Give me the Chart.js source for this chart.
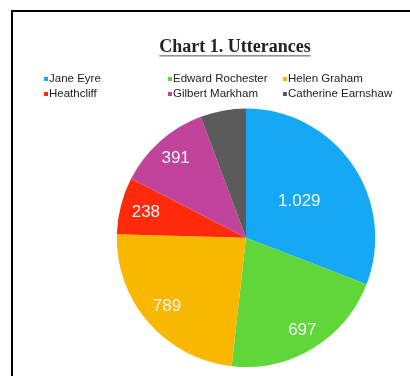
<!DOCTYPE html>
<html>
<head>
<meta charset="utf-8">
<script src="https://cdn.jsdelivr.net/npm/chart.js@4.4.0/dist/chart.umd.min.js"></script>
<style>
    html, body { margin: 0; padding: 0; background: #fff; overflow: hidden; }
    #wrap { position: relative; width: 410px; height: 376px; }
    #frame { position: absolute; left: 11px; top: 10px; width: 600px; height: 600px;
             border-left: 2px solid #000; border-top: 2px solid #000; }
    #pie { position: absolute; left: 0; top: 0; }
</style>
</head>
<body>
<div id="wrap">
    <div id="frame"></div>
    <canvas id="pie" width="410" height="376"></canvas>
</div>
<script>
const characters = ['Jane Eyre', 'Edward Rochester', 'Helen Graham', 'Heathcliff', 'Gilbert Markham', 'Catherine Earnshaw'];
const utterances = [1029, 697, 789, 238, 391, 190];
const show_value = [true, true, true, true, true, false];
const slice_colors = ['#14a8f5', '#5fd63a', '#f8b800', '#ff2a0a', '#c0449b', '#5b5b5b'];

// thousands with a dot, like "1.029"
function fmt(v) {
    return String(v).replace(/\B(?=(\d{3})+(?!\d))/g, '.');
}

// nudges the pie to the right of the title/legend centre
const shift_area = {
    id: 'shift_area',
    afterLayout(chart, args, opts) {
        const a = chart.chartArea;
        a.left += opts.dx;
        a.width = a.right - a.left;
    }
};

// title underline
const underline = {
    id: 'underline',
    afterDraw(chart) {
        const tb = chart.titleBlock;
        const o = tb.options;
        const font = Chart.helpers.toFont(o.font);
        const pad = Chart.helpers.toPadding(o.padding);
        const ctx = chart.ctx;
        ctx.save();
        ctx.font = font.string;
        const w = ctx.measureText(o.text).width;
        const cx = (tb.left + tb.right) / 2;
        const y = tb.top + pad.top + font.lineHeight / 2 + font.size * 0.42;
        ctx.strokeStyle = '#555';
        ctx.lineWidth = 1;
        ctx.beginPath();
        ctx.moveTo(cx - w / 2, y + 0.5);
        ctx.lineTo(cx + w / 2, y + 0.5);
        ctx.stroke();
        ctx.restore();
    }
};

// three-column legend like the Excel one
const grid_legend = {
    id: 'grid_legend',
    afterDraw(chart, args, opts) {
        const ctx = chart.ctx;
        const ds = chart.data.datasets[0];
        ctx.save();
        ctx.font = '11.5px "Liberation Sans", Arial, sans-serif';
        ctx.textBaseline = 'middle';
        ctx.textAlign = 'left';
        chart.data.labels.forEach((lab, i) => {
            const x = opts.cols[i % 3];
            const y = opts.rows[Math.floor(i / 3)];
            ctx.fillStyle = ds.backgroundColor[i];
            ctx.fillRect(x, y - 2, 4, 4);
            ctx.fillStyle = '#222';
            ctx.fillText(lab, x + 5, y);
        });
        ctx.restore();
    }
};

// value labels inside the slices
const slice_labels = {
    id: 'slice_labels',
    afterDatasetsDraw(chart, args, opts) {
        const ctx = chart.ctx;
        const meta = chart.getDatasetMeta(0);
        const values = chart.data.datasets[0].data;
        ctx.save();
        ctx.font = '17px "Liberation Sans", Arial, sans-serif';
        ctx.fillStyle = '#f2f2f2';
        ctx.textAlign = 'center';
        ctx.textBaseline = 'middle';
        meta.data.forEach((arc, i) => {
            if (!show_value[i]) return;
            const p = arc.getProps(['x', 'y', 'startAngle', 'endAngle', 'outerRadius'], true);
            const mid = (p.startAngle + p.endAngle) / 2;
            const r = p.outerRadius * opts.dist[i];
            ctx.fillText(fmt(values[i]), p.x + Math.cos(mid) * r, p.y + Math.sin(mid) * r);
        });
        ctx.restore();
    }
};

const chart = new Chart(document.getElementById('pie'), {
    type: 'pie',
    data: {
        labels: characters,
        datasets: [{
            data: utterances,
            backgroundColor: slice_colors,
            borderWidth: 0
        }]
    },
    options: {
        responsive: false,
        animation: false,
        layout: {
            padding: { left: 60, right: 0, top: 0, bottom: 9 }
        },
        plugins: {
            title: {
                display: true,
                text: 'Chart 1. Utterances',
                color: '#222',
                font: { family: '"Liberation Serif", "Times New Roman", serif', size: 18, weight: 'bold' },
                padding: { top: 37, bottom: 50 }
            },
            legend: { display: false },
            tooltip: { enabled: false },
            shift_area: { dx: 22 },
            grid_legend: { cols: [44, 168, 283], rows: [79, 94] },
            slice_labels: { dist: [0.5, 0.84, 0.81, 0.8, 0.82, 0.8] }
        }
    },
    plugins: [shift_area, underline, grid_legend, slice_labels]
});
</script>
</body>
</html>
